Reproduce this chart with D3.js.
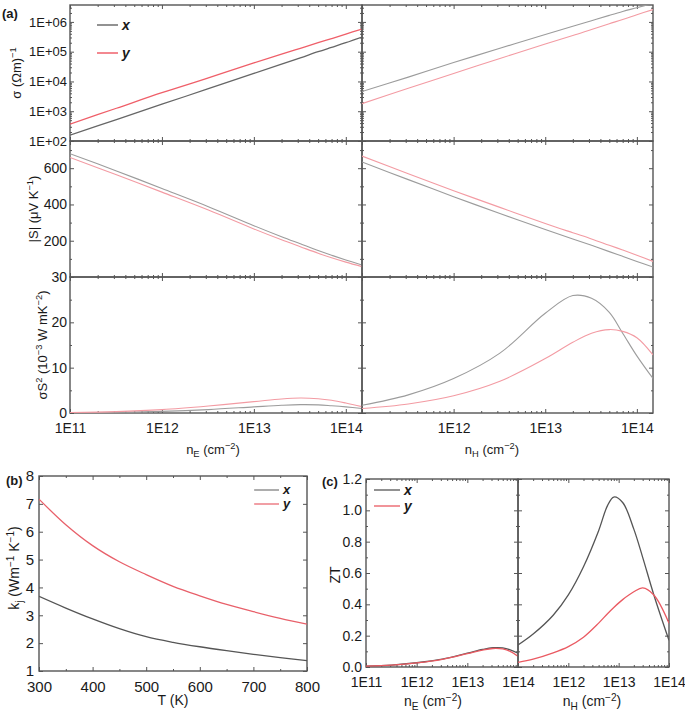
<!DOCTYPE html>
<html><head><meta charset="utf-8">
<script src="https://cdn.jsdelivr.net/npm/d3@7"></script>
<style>
body{margin:0;background:#fff}
text{font-family:"Liberation Sans",Arial,Helvetica,sans-serif;fill:#1a1a1a}
</style>
</head><body>
<svg id="c" width="685" height="710"></svg>
<script>
// ---------------- DATA ----------------
// carrier density grid for panel (a) (cm^-2)
const nGridA = [1e11, 3.2e11, 1e12, 3.2e12, 1e13, 2e13, 3.2e13, 5e13, 7e13, 1e14, 1.5e14];
// conductivity (Ohm m)^-1, electrons (nE) and holes (nH)
const sigmaE_x = [158, 525, 1720, 5.7e3, 1.86e4, 3.8e4, 6.2e4, 1.0e5, 1.4e5, 2.0e5, 3.1e5];
const sigmaE_y = [370, 1260, 4200, 1.32e4, 4.2e4, 8.3e4, 1.3e5, 2.0e5, 2.75e5, 3.9e5, 5.75e5];
const sigmaH_x = [4.6e3, 1.4e4, 4.3e4, 1.3e5, 3.8e5, 7.2e5, 1.1e6, 1.66e6, 2.24e6, 3.0e6, 4.2e6];
const sigmaH_y = [1.8e3, 5.9e3, 1.86e4, 5.9e4, 1.82e5, 3.5e5, 5.6e5, 8.7e5, 1.2e6, 1.74e6, 2.6e6];
// |S| (uV/K)
const seebE_x = [680, 585, 488, 388, 283, 222, 183, 146, 120, 94, 66];
const seebE_y = [659, 564, 468, 369, 265, 205, 167, 131, 106, 82, 57];
const seebH_x = [634, 537, 443, 350, 262, 210, 175, 140, 114, 86, 55];
const seebH_y = [667, 570, 476, 384, 295, 244, 210, 175, 149, 120, 86];
// power factor sigma S^2 (1e-3 W m^-1 K^-2)
const pfE_x = [0.05, 0.15, 0.35, 0.75, 1.35, 1.7, 1.85, 1.8, 1.6, 1.35, 1.0];
const pfE_y = [0.1, 0.3, 0.75, 1.55, 2.5, 3.1, 3.3, 3.15, 2.8, 2.2, 1.4];
const pfH_x = [1.7, 4.0, 7.6, 13.2, 22.0, 25.9, 25.3, 22.2, 17.6, 12.6, 7.6];
const pfH_y = [1.0, 2.0, 3.8, 7.0, 12.0, 15.6, 17.6, 18.4, 18.0, 16.6, 12.8];
// panel (b): lattice thermal conductivity vs temperature
const temps = [300, 350, 400, 450, 500, 550, 600, 650, 700, 750, 800];
const kj_x = [3.68, 3.26, 2.87, 2.52, 2.23, 2.03, 1.87, 1.73, 1.6, 1.48, 1.37];
const kj_y = [7.17, 6.25, 5.5, 4.92, 4.46, 4.04, 3.7, 3.39, 3.13, 2.89, 2.68];
// panel (c): ZT
const nGridCE = [1e11, 3.2e11, 1e12, 3.2e12, 1e13, 2e13, 3.2e13, 5e13, 7e13, 1e14];
const ztE_x = [0.005, 0.012, 0.027, 0.05, 0.088, 0.112, 0.123, 0.122, 0.11, 0.088];
const ztE_y = [0.005, 0.012, 0.026, 0.049, 0.085, 0.108, 0.118, 0.115, 0.1, 0.068];
const nGridCH = [1e11, 2e11, 5e11, 1e12, 2e12, 4e12, 6e12, 8e12, 1.2e13, 2e13, 3e13, 5e13, 1e14];
const ztH_x = [0.14, 0.21, 0.33, 0.46, 0.64, 0.87, 1.03, 1.085, 1.05, 0.88, 0.7, 0.46, 0.17];
const ztH_y = [0.03, 0.05, 0.09, 0.13, 0.19, 0.28, 0.34, 0.38, 0.43, 0.48, 0.505, 0.46, 0.28];
// tick labels
const logTickLabelsA = ["1E+02", "1E+03", "1E+04", "1E+05", "1E+06"];
const nTickLabels = ["1E11", "1E12", "1E13", "1E14"];
const seriesNames = ["x", "y"];

// ---------------- DRAWING ----------------
const svg = d3.select('#c');
const FRAME = '#555';
let clipId = 0;

function logMinor(dom){
  const maj=[], min=[];
  const lo=Math.floor(Math.log10(dom[0])), hi=Math.ceil(Math.log10(dom[1]));
  for(let d=lo; d<=hi; d++) for(let k=1;k<10;k++){
    const v=k*Math.pow(10,d);
    if(v<dom[0]*0.999||v>dom[1]*1.001) continue;
    (k===1?maj:min).push(v);
  }
  return {maj,min};
}
function styleAxis(sel){
  sel.select('.domain').remove();
  sel.selectAll('.tick line').attr('stroke',FRAME).attr('stroke-width',1);
  sel.selectAll('.tick text').attr('fill','#1a1a1a').style('font-family','"Liberation Sans",Arial,sans-serif');
}
function cell(g, x, y, o){
  const [X0,X1]=x.range(), [Y0,Y1]=y.range();
  const side = (ax, tr, vals, size, fmt, fs, pad) => {
    const a = ax.tickValues(vals).tickSize(-size).tickPadding(pad||4).tickFormat(fmt||(()=>''));
    const s = g.append('g').attr('transform',tr).call(a);
    styleAxis(s);
    s.selectAll('.tick text').style('font-size',(fs||13)+'px');
    return s;
  };
  side(d3.axisBottom(x), `translate(0,${Y0})`, o.xMaj, 4, o.xFmt, o.xFs, o.xPad);
  if(o.xMin) side(d3.axisBottom(x), `translate(0,${Y0})`, o.xMin, 2);
  side(d3.axisTop(x), `translate(0,${Y1})`, o.xMaj, 4);
  if(o.xMin) side(d3.axisTop(x), `translate(0,${Y1})`, o.xMin, 2);
  side(d3.axisLeft(y), `translate(${X0},0)`, o.yMaj, 4, o.yFmt, o.yFs, o.yPad);
  if(o.yMin) side(d3.axisLeft(y), `translate(${X0},0)`, o.yMin, 2);
  side(d3.axisRight(y), `translate(${X1},0)`, o.yMaj, 4);
  if(o.yMin) side(d3.axisRight(y), `translate(${X1},0)`, o.yMin, 2);
  g.append('rect').attr('x',X0).attr('y',Y1).attr('width',X1-X0).attr('height',Y0-Y1)
    .attr('fill','none').attr('stroke',FRAME).attr('stroke-width',1.4);
  const id='clip'+(clipId++);
  svg.append('clipPath').attr('id',id).append('rect').attr('x',X0).attr('y',Y1).attr('width',X1-X0).attr('height',Y0-Y1);
  return id;
}
function line(g, clip, x, y, xs, ys, color, w){
  const gen = d3.line().x((d,i)=>x(xs[i])).y(d=>y(d)).curve(d3.curveCatmullRom.alpha(0.5));
  g.append('path').attr('clip-path',`url(#${clip})`).attr('d',gen(ys))
    .attr('fill','none').attr('stroke',color).attr('stroke-width',w||1.3).attr('stroke-linejoin','round');
}
function rich(g, x, y, parts, opt){
  opt=opt||{};
  const fs=opt.fs||13;
  const t=g.append('text').attr('x',x).attr('y',y).attr('text-anchor',opt.anchor||'middle')
    .style('font-size',fs+'px');
  if(opt.rot) t.attr('transform',`rotate(-90,${x},${y})`);
  let shift=0;
  parts.forEach(([s,k])=>{
    const ts=t.append('tspan').text(s);
    let target = k==='sup' ? -fs*0.38 : k==='sub' ? fs*0.25 : 0;
    ts.attr('dy', target-shift); shift=target;
    if(k) ts.style('font-size',(fs*0.72)+'px');
  });
  return t;
}

// ======== Panel (a) ========
const gA = svg.append('g');
const nDom = [1e11, 1.5e14];
const xAL = d3.scaleLog().domain(nDom).range([70, 362]);
const xAR = d3.scaleLog().domain(nDom).range([362, 653]);
const ySig = d3.scaleLog().domain([1e2, 3.7e6]).range([141, 5]);
const ySee = d3.scaleLinear().domain([0, 750]).range([277, 141]);
const yPf  = d3.scaleLinear().domain([0, 30]).range([413, 277]);
const nT = logMinor(nDom);
const sigT = logMinor([1e2, 3.7e6]);
const nLab = {};
nTickLabels.forEach((l,i)=>nLab[Math.pow(10,11+i)]=l);
const sigLab = {};
logTickLabelsA.forEach((l,i)=>sigLab[Math.pow(10,2+i)]=l);
const findLab = (map,d)=>{for(const k in map){ if(Math.abs(+k-d)/d<1e-6) return map[k]; } return '';};

const colA1 = ['#666666','#ef5f69'];
const colA2 = ['#9c9c9c','#f39ba3'];

let c;
c = cell(gA, xAL, ySig, {xMaj:nT.maj, xMin:nT.min, yMaj:sigT.maj, yMin:sigT.min,
  yFmt:d=>findLab(sigLab,d), yFs:13, yPad:3});
line(gA,c,xAL,ySig,nGridA,sigmaE_x,colA1[0],1.3);
line(gA,c,xAL,ySig,nGridA,sigmaE_y,colA1[1],1.3);
c = cell(gA, xAR, ySig, {xMaj:nT.maj, xMin:nT.min, yMaj:sigT.maj, yMin:sigT.min});
line(gA,c,xAR,ySig,nGridA,sigmaH_x,colA2[0],1.1);
line(gA,c,xAR,ySig,nGridA,sigmaH_y,colA2[1],1.1);
c = cell(gA, xAL, ySee, {xMaj:nT.maj, xMin:nT.min, yMaj:[200,400,600], yMin:[100,300,500,700],
  yFmt:d=>String(d), yFs:14, yPad:3});
line(gA,c,xAL,ySee,nGridA,seebE_x,colA2[0],1.1);
line(gA,c,xAL,ySee,nGridA,seebE_y,colA2[1],1.1);
c = cell(gA, xAR, ySee, {xMaj:nT.maj, xMin:nT.min, yMaj:[200,400,600], yMin:[100,300,500,700]});
line(gA,c,xAR,ySee,nGridA,seebH_x,colA2[0],1.1);
line(gA,c,xAR,ySee,nGridA,seebH_y,colA2[1],1.1);
c = cell(gA, xAL, yPf, {xMaj:nT.maj, xMin:nT.min, yMaj:[0,10,20,30], yMin:[5,15,25],
  yFmt:d=>String(d), yFs:14, yPad:3,
  xFmt:d=>findLab(nLab,d), xFs:14, xPad:10});
line(gA,c,xAL,yPf,nGridA,pfE_x,colA2[0],1.1);
line(gA,c,xAL,yPf,nGridA,pfE_y,colA2[1],1.1);
c = cell(gA, xAR, yPf, {xMaj:nT.maj, xMin:nT.min, yMaj:[0,10,20,30], yMin:[5,15,25],
  xFmt:d=>(d>1.5e11?findLab(nLab,d):''), xFs:14, xPad:10});
line(gA,c,xAR,yPf,nGridA,pfH_x,colA2[0],1.1);
line(gA,c,xAR,yPf,nGridA,pfH_y,colA2[1],1.1);

gA.append('text').attr('x',2).attr('y',18).style('font-size','13px').style('font-weight','bold').text('(a)');
rich(gA, 21, 73, [['σ (Ωm)',null],['−1','sup']], {rot:true, fs:13});
rich(gA, 38, 209, [['|S| (μV K',null],['−1','sup'],[')',null]], {rot:true, fs:13});
rich(gA, 47, 345, [['σS',null],['2','sup'],[' (10',null],['−3','sup'],[' W mK',null],['−2','sup'],[')',null]], {rot:true, fs:13});
rich(gA, 213, 454, [['n',null],['E','sub'],[' (cm',null],['−2','sup'],[')',null]], {fs:13});
rich(gA, 492, 454, [['n',null],['H','sub'],[' (cm',null],['−2','sup'],[')',null]], {fs:13});
[[25,'#777777'],[53,'#f06a74']].forEach(([yy,col],i)=>{
  gA.append('line').attr('x1',97).attr('x2',118).attr('y1',yy).attr('y2',yy).attr('stroke',col).attr('stroke-width',1.6);
  gA.append('text').attr('x',122).attr('y',yy+5).style('font-size','14px').style('font-weight','bold').style('font-style','italic').text(seriesNames[i]);
});

// ======== Panel (b) ========
const gB = svg.append('g');
const xB = d3.scaleLinear().domain([300,800]).range([39,307]);
const yB = d3.scaleLinear().domain([1,8]).range([671,476]);
c = cell(gB, xB, yB, {xMaj:d3.range(300,801,100), xMin:d3.range(350,800,100), yMaj:d3.range(1,9),
  xFmt:d=>String(d), xFs:15, xPad:10, yFmt:d=>String(d), yFs:15, yPad:5});
line(gB,c,xB,yB,temps,kj_x,'#555555',1.3);
line(gB,c,xB,yB,temps,kj_y,'#e8606a',1.3);
gB.append('text').attr('x',6).attr('y',485).style('font-size','13px').style('font-weight','bold').text('(b)');
rich(gB, 19, 568, [['k',null],['j','sub'],[' (Wm',null],['−1','sup'],[' K',null],['−1','sup'],[')',null]], {rot:true, fs:14});
rich(gB, 173, 705, [['T (K)',null]], {fs:14});
[[490,'#777777'],[504,'#e8606a']].forEach(([yy,col],i)=>{
  gB.append('line').attr('x1',254).attr('x2',279).attr('y1',yy).attr('y2',yy).attr('stroke',col).attr('stroke-width',1.2);
  gB.append('text').attr('x',283).attr('y',yy+4).style('font-size','13px').style('font-weight','bold').style('font-style','italic').text(seriesNames[i]);
});

// ======== Panel (c) ========
const gC = svg.append('g');
const nDomC = [1e11, 1e14];
const xCL = d3.scaleLog().domain(nDomC).range([366,518]);
const xCR = d3.scaleLog().domain(nDomC).range([518,669]);
const yC = d3.scaleLinear().domain([0,1.2]).range([667,479]);
const nTC = logMinor(nDomC);
const yCMaj = d3.range(0,1.21,0.2), yCMin = d3.range(0.1,1.2,0.2);
c = cell(gC, xCL, yC, {xMaj:nTC.maj, xMin:nTC.min, yMaj:yCMaj, yMin:yCMin,
  xFmt:d=>findLab(nLab,d), xFs:14, xPad:10, yFmt:d3.format('.1f'), yFs:14, yPad:4});
line(gC,c,xCL,yC,nGridCE,ztE_x,'#555555',1.3);
line(gC,c,xCL,yC,nGridCE,ztE_y,'#ea5a62',1.3);
c = cell(gC, xCR, yC, {xMaj:nTC.maj, xMin:nTC.min, yMaj:yCMaj, yMin:yCMin,
  xFmt:d=>(d>1.5e11?findLab(nLab,d):''), xFs:14, xPad:10});
line(gC,c,xCR,yC,nGridCH,ztH_x,'#555555',1.3);
line(gC,c,xCR,yC,nGridCH,ztH_y,'#ea5a62',1.3);
gC.append('text').attr('x',322).attr('y',486).style('font-size','13px').style('font-weight','bold').text('(c)');
rich(gC, 340, 575, [['ZT',null]], {rot:true, fs:14});
rich(gC, 433, 706, [['n',null],['E','sub'],[' (cm',null],['−2','sup'],[')',null]], {fs:14});
rich(gC, 592, 706, [['n',null],['H','sub'],[' (cm',null],['−2','sup'],[')',null]], {fs:14});
[[490,'#555555'],[506,'#ea5a62']].forEach(([yy,col],i)=>{
  gC.append('line').attr('x1',374).attr('x2',400).attr('y1',yy).attr('y2',yy).attr('stroke',col).attr('stroke-width',1.3);
  gC.append('text').attr('x',404).attr('y',yy+5).style('font-size','14px').style('font-weight','bold').style('font-style','italic').text(seriesNames[i]);
});
</script>
</body></html>
